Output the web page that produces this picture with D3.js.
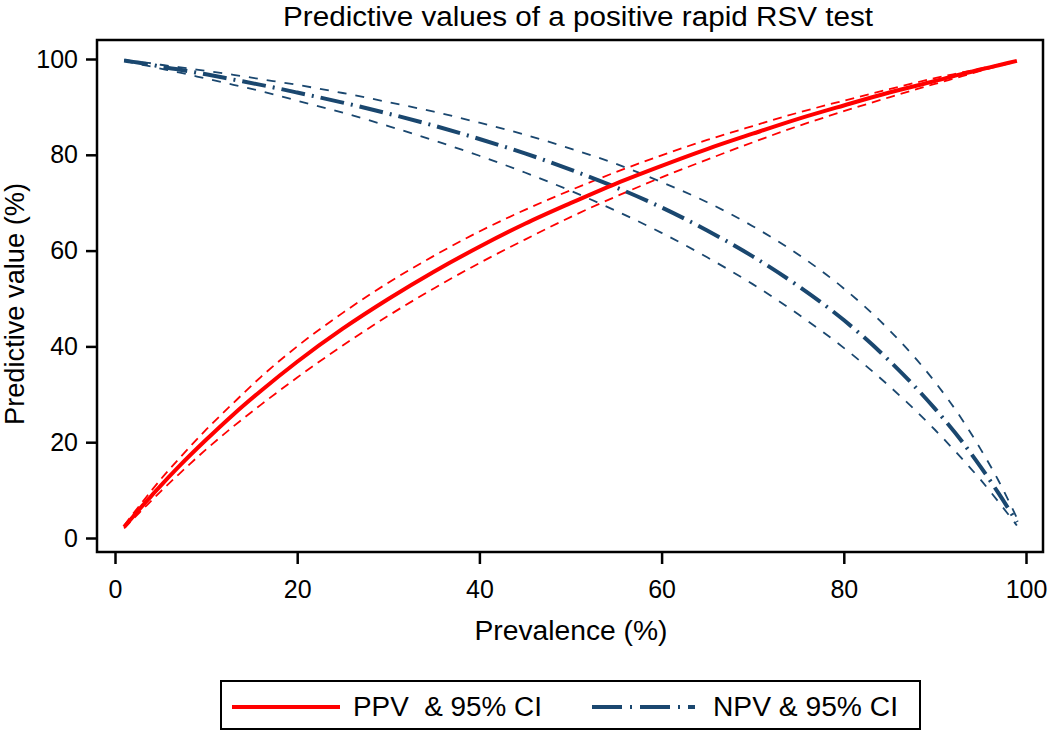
<!DOCTYPE html>
<html>
<head>
<meta charset="utf-8">
<script src="https://cdn.jsdelivr.net/npm/d3@7"></script>
<style>
  html, body { margin: 0; padding: 0; background: #fff; }
  svg { display: block; font-family: "Liberation Sans", Arial, sans-serif; }
</style>
</head>
<body>
<svg id="chart" width="1050" height="735"></svg>
<script>
// ---- data ----
const prevalence = [1,2,3,4,5,7,10,13,16,20,25,30,35,40,45,50,55,60,65,70,75,80,85,90,93,95,97,99];
const ppv   = [2.3,4.5,6.7,8.8,10.9,14.9,20.5,25.8,30.7,36.8,43.7,49.9,55.6,60.8,65.6,69.9,74.0,77.7,81.2,84.4,87.5,90.3,93.0,95.4,96.9,97.8,98.7,99.6];
const ppvHi = [2.6,5.1,7.5,9.9,12.2,16.5,22.6,28.2,33.6,40.0,47.0,53.3,58.9,64.0,68.5,72.6,76.4,79.9,83.1,86.0,88.8,91.3,93.7,96.0,97.2,98.0,98.8,99.6];
const ppvLo = [2.0,4.0,5.9,7.8,9.7,13.3,18.5,23.3,27.8,33.5,40.2,46.4,52.1,57.4,62.3,67.0,71.3,75.3,79.0,82.6,86.0,89.1,92.0,94.8,96.4,97.5,98.5,99.5];
const npv   = [99.7,99.4,99.1,98.8,98.4,97.8,96.8,95.7,94.6,93.0,90.9,88.6,86.1,83.3,80.3,76.9,73.2,69.0,64.2,58.8,52.6,45.5,37.0,27.0,20.1,14.9,9.3,3.3];
const npvHi = [99.8,99.5,99.3,99.1,98.8,98.3,97.5,96.7,95.8,94.6,92.9,91.0,89.0,86.7,84.2,81.3,78.1,74.3,70.1,65.1,59.2,52.1,43.4,32.6,24.7,18.6,11.9,4.2];
const npvLo = [99.6,99.2,98.8,98.4,98.0,97.2,95.9,94.6,93.3,91.3,88.8,86.0,83.0,79.8,76.3,72.5,68.3,63.7,58.6,53.0,46.7,39.7,31.7,22.6,16.5,12.2,7.5,2.6];
const xTicks = [0,20,40,60,80,100];
const yTicks = [0,20,40,60,80,100];
const legendLabels = ["PPV  & 95% CI", "NPV & 95% CI"];
const titleText = "Predictive values of a positive rapid RSV test";

// ---- layout ----
const RED = "#ff0000", NAVY = "#1a476f";
const svg = d3.select("#chart");
const frame = {left: 97, right: 1043, top: 40, bottom: 552};
const x = d3.scaleLinear().domain([0,100]).range([115,1026]);
const y = d3.scaleLinear().domain([0,100]).range([538,59]);

// title
svg.append("text").attr("x", 578).attr("y", 26).attr("text-anchor","middle")
  .attr("font-size", 27).attr("textLength", 590).attr("lengthAdjust","spacingAndGlyphs")
  .text(titleText);

// axes
const yAxis = d3.axisLeft(y).tickValues(yTicks).tickSize(11).tickPadding(8);
const gy = svg.append("g").attr("transform", `translate(${frame.left},0)`).call(yAxis);
const xAxis = d3.axisBottom(x).tickValues(xTicks).tickSize(12).tickPadding(16);
const gx = svg.append("g").attr("transform", `translate(0,${frame.bottom})`).call(xAxis);
[gx, gy].forEach(g => {
  g.select(".domain").remove();
  g.selectAll(".tick line").attr("stroke","#000").attr("stroke-width",2.5);
  g.selectAll(".tick text").attr("font-size",25).attr("fill","#000")
    .attr("font-family","'Liberation Sans', Arial, sans-serif");
});

// frame
svg.append("rect").attr("x",frame.left).attr("y",frame.top)
  .attr("width",frame.right-frame.left).attr("height",frame.bottom-frame.top)
  .attr("fill","none").attr("stroke","#000").attr("stroke-width",2.5);

// axis titles
svg.append("text").attr("x",571).attr("y",640).attr("text-anchor","middle")
  .attr("font-size",27).attr("textLength",193).attr("lengthAdjust","spacingAndGlyphs")
  .text("Prevalence (%)");
svg.append("text").attr("transform","translate(24,304) rotate(-90)").attr("text-anchor","middle")
  .attr("font-size",27).attr("textLength",242).attr("lengthAdjust","spacingAndGlyphs")
  .text("Predictive value (%)");

// lines
const line = vals => d3.line().curve(d3.curveMonotoneX)
  .x((d,i) => x(prevalence[i])).y(d => y(d))(vals);

const series = [
  {v: ppvHi, c: RED,  w: 1.8, dash: "9,6"},
  {v: ppvLo, c: RED,  w: 1.8, dash: "9,6"},
  {v: npvHi, c: NAVY, w: 1.8, dash: "9,9"},
  {v: npvLo, c: NAVY, w: 1.8, dash: "9,9"},
  {v: npv,   c: NAVY, w: 4,   dash: "24,7,2,7"},
  {v: ppv,   c: RED,  w: 4,   dash: null}
];
series.forEach(s => {
  svg.append("path").attr("d", line(s.v)).attr("fill","none")
    .attr("stroke", s.c).attr("stroke-width", s.w)
    .attr("stroke-dasharray", s.dash);
});

// legend
const lg = svg.append("g");
lg.append("rect").attr("x",221).attr("y",681).attr("width",699).attr("height",48)
  .attr("fill","#fff").attr("stroke","#000").attr("stroke-width",2);
lg.append("line").attr("x1",232).attr("x2",340).attr("y1",707).attr("y2",707)
  .attr("stroke",RED).attr("stroke-width",4);
lg.append("line").attr("x1",592).attr("x2",695).attr("y1",707).attr("y2",707)
  .attr("stroke",NAVY).attr("stroke-width",4).attr("stroke-dasharray","30,8,2,8");
lg.append("text").attr("x",353).attr("y",716).attr("font-size",27)
  .attr("textLength",189).attr("lengthAdjust","spacingAndGlyphs")
  .attr("xml:space","preserve").style("white-space","pre").text(legendLabels[0]);
lg.append("text").attr("x",713).attr("y",716).attr("font-size",27)
  .attr("textLength",185).attr("lengthAdjust","spacingAndGlyphs")
  .text(legendLabels[1]);
</script>
</body>
</html>
